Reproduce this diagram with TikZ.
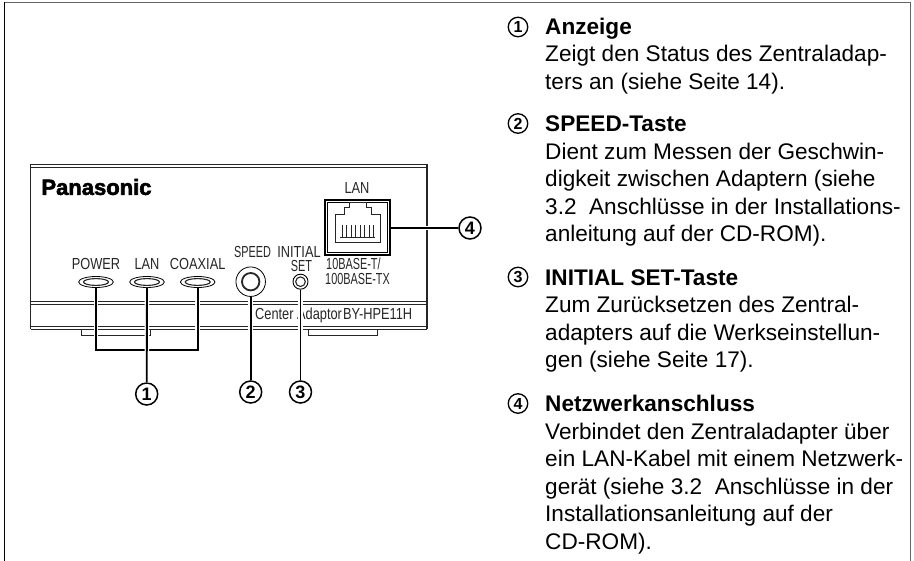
\documentclass[tikz,border=0pt]{standalone}
\usepackage{fontspec}
\setmainfont{Liberation Sans}
\newfontfamily\narrowfont[FakeStretch=0.8]{Liberation Sans}
\newfontfamily\tightfont[FakeStretch=0.68]{Liberation Sans}
\newfontfamily\brandfont[BoldFeatures={FakeBold=2.5}]{Liberation Sans}
\usetikzlibrary{shapes.geometric}

\tikzset{
    devline/.style={line width=1pt, draw=black!85},
    devlabel/.style={anchor=base, inner sep=0pt, text=black!85, font=\narrowfont\fontsize{16}{16}\selectfont},
    tightlabel/.style={devlabel, font=\tightfont\fontsize{16}{16}\selectfont},
    leader/.style={line width=1.9pt, preaction={draw, white, line width=4.5pt}},
    callout/.style={circle, draw, fill=white, line width=1.5pt, minimum size=22pt, inner sep=0pt, font=\fontsize{18}{18}\selectfont\bfseries},
    listnum/.style={circle, draw, line width=1.3pt, minimum size=19.5pt, inner sep=0pt, font=\fontsize{16}{16}\selectfont\bfseries},
    itemtext/.style={anchor=north west, inner sep=0pt, align=left, font=\fontsize{22.6}{27.5}\selectfont},
    led/.style={ellipse, draw, line width=.8pt, minimum width=34.6pt, minimum height=11pt, inner sep=0pt},
}

\begin{document}
\begin{tikzpicture}[x=1pt, y=-1pt]
    \useasboundingbox (0,0) rectangle (914,561);

    % page frame
    \draw[line width=1.5pt, black!60] (4.5,561) -- (4.5,2.5) -- (910.5,2.5) -- (910.5,561);
    \draw[line width=1.5pt] (4.5,2) -- (4.5,561);

    % adapter housing
    \draw[devline, line width=1.3pt] (30.5,329.5) -- (30.5,164.5) -- (427,164.5) -- (427,329.5);
    \draw[devline, line width=.6pt] (30.5,167) -- (427,167);
    \draw[devline] (30.5,301.5) -- (427,301.5);
    \draw[devline, line width=.7pt] (30.5,304.5) -- (427,304.5);
    \draw[devline, line width=.7pt] (30.5,326.5) -- (427,326.5);
    \draw[devline, line width=1.3pt] (30.5,329.8) -- (427,329.8);
    \draw[devline] (81,330) -- (81,336) -- (150,336) -- (150,330);
    \draw[devline] (308,330) -- (308,336) -- (377,336) -- (377,330);

    \node (brand) at (96.5,187) [inner sep=0pt, font=\brandfont\bfseries\fontsize{22}{22}\selectfont] {Panasonic};

    % indicators
    \foreach \name/\x/\lab in {ledpower/96/POWER, ledlan/147/LAN, ledcoax/197.7/COAXIAL} {
        \node (\name) at (\x,282) [led] {};
        \draw[line width=1.1pt, black!85] (\name) ellipse [x radius=12.5pt, y radius=3.4pt];
        \node (\name text) at (\x,270) [devlabel] {\lab};
    }

    % buttons
    \node (speedbtn) at (250.7,281.7) [circle, draw, line width=.8pt, minimum size=29.5pt, inner sep=0pt] {};
    \draw[line width=1.8pt, black!85] (speedbtn) circle [radius=8.7pt];
    \node (setbtn) at (300.5,281.7) [circle, draw, line width=.9pt, minimum size=15pt, inner sep=0pt] {};
    \draw[line width=1.1pt, black!85] (setbtn) circle [radius=4.8pt];

    \node (speedtext) at (252.5,257.3) [tightlabel] {SPEED};
    \node (inittext) at (299,257.3) [devlabel] {INITIAL};
    \node (settext) at (301.5,271.8) [tightlabel] {SET};
    \node (lantext) at (357,194) [devlabel] {LAN};
    \node (basea) at (326,269.5) [tightlabel, anchor=base west] {10BASE-T/};
    \node (baseb) at (325,285) [tightlabel, anchor=base west] {100BASE-TX};
    \node (modela) at (255,320) [devlabel, anchor=base west] {Center Adaptor};
    \node (modelb) at (343,320) [devlabel, anchor=base west] {BY-HPE11H};

    % network port
    \node (lanport) at (357.5,227.5) [rectangle, draw, line width=1.5pt, minimum width=65pt, minimum height=55pt, inner sep=0pt] {};
    \draw[line width=.6pt] (327.5,202.5) rectangle (387.5,252.5);
    \draw[line width=1pt, black!85] (335,243) -- (335,215) -- (344,215) -- (344,208) -- (349,208) -- (349,203)
        -- (366,203) -- (366,208) -- (371,208) -- (371,215) -- (380,215) -- (380,243) -- cycle;
    \foreach \x in {342,346.5,...,375} {
        \draw[line width=1pt, black!85] (\x,225) -- (\x,238);
    }
    \draw[line width=1pt, black!85] (340,238) -- (375,238);

    % callouts
    \node (numa) at (146.7,394) [callout] {1};
    \node (numb) at (250.7,392) [callout] {2};
    \node (numc) at (300.5,392) [callout] {3};
    \node (numd) at (470,228) [callout] {4};

    \coordinate (busleft) at (96,350);
    \coordinate (busright) at (197.7,350);
    \draw[leader] (ledpower.south) -- (busleft) -- (busright) -- (ledcoax.south);
    \draw[leader] (ledlan.south) -- (numa.north);
    \draw[leader] (speedbtn.south) -- (numb.north);
    \draw[leader] (setbtn.south) -- (numc.north);
    \draw[leader] (lanport.east |- numd) -- (numd.west);

    % description list
    \node (lista) at (518,27) [listnum] {1};
    \node (listb) at (518,123.5) [listnum] {2};
    \node (listc) at (518,277) [listnum] {3};
    \node (listd) at (518,403.5) [listnum] {4};

    \node (itema) at (545,15) [itemtext] {\strut\textbf{Anzeige}\\Zeigt den Status des Zentraladap-\\ters an (siehe Seite 14).};
    \node (itemb) at (545,112.5) [itemtext] {\strut\textbf{SPEED-Taste}\\Dient zum Messen der Geschwin-\\digkeit zwischen Adaptern (siehe\\3.2~~Anschlüsse in der Installations-\\anleitung auf der CD-ROM).};
    \node (itemc) at (545,266) [itemtext] {\strut\textbf{INITIAL SET-Taste}\\Zum Zurücksetzen des Zentral-\\adapters auf die Werkseinstellun-\\gen (siehe Seite 17).};
    \node (itemd) at (545,392.5) [itemtext] {\strut\textbf{Netzwerkanschluss}\\Verbindet den Zentraladapter über\\ein LAN-Kabel mit einem Netzwerk-\\gerät (siehe 3.2~~Anschlüsse in der\\Installationsanleitung auf der\\CD-ROM).};
\end{tikzpicture}
\end{document}
